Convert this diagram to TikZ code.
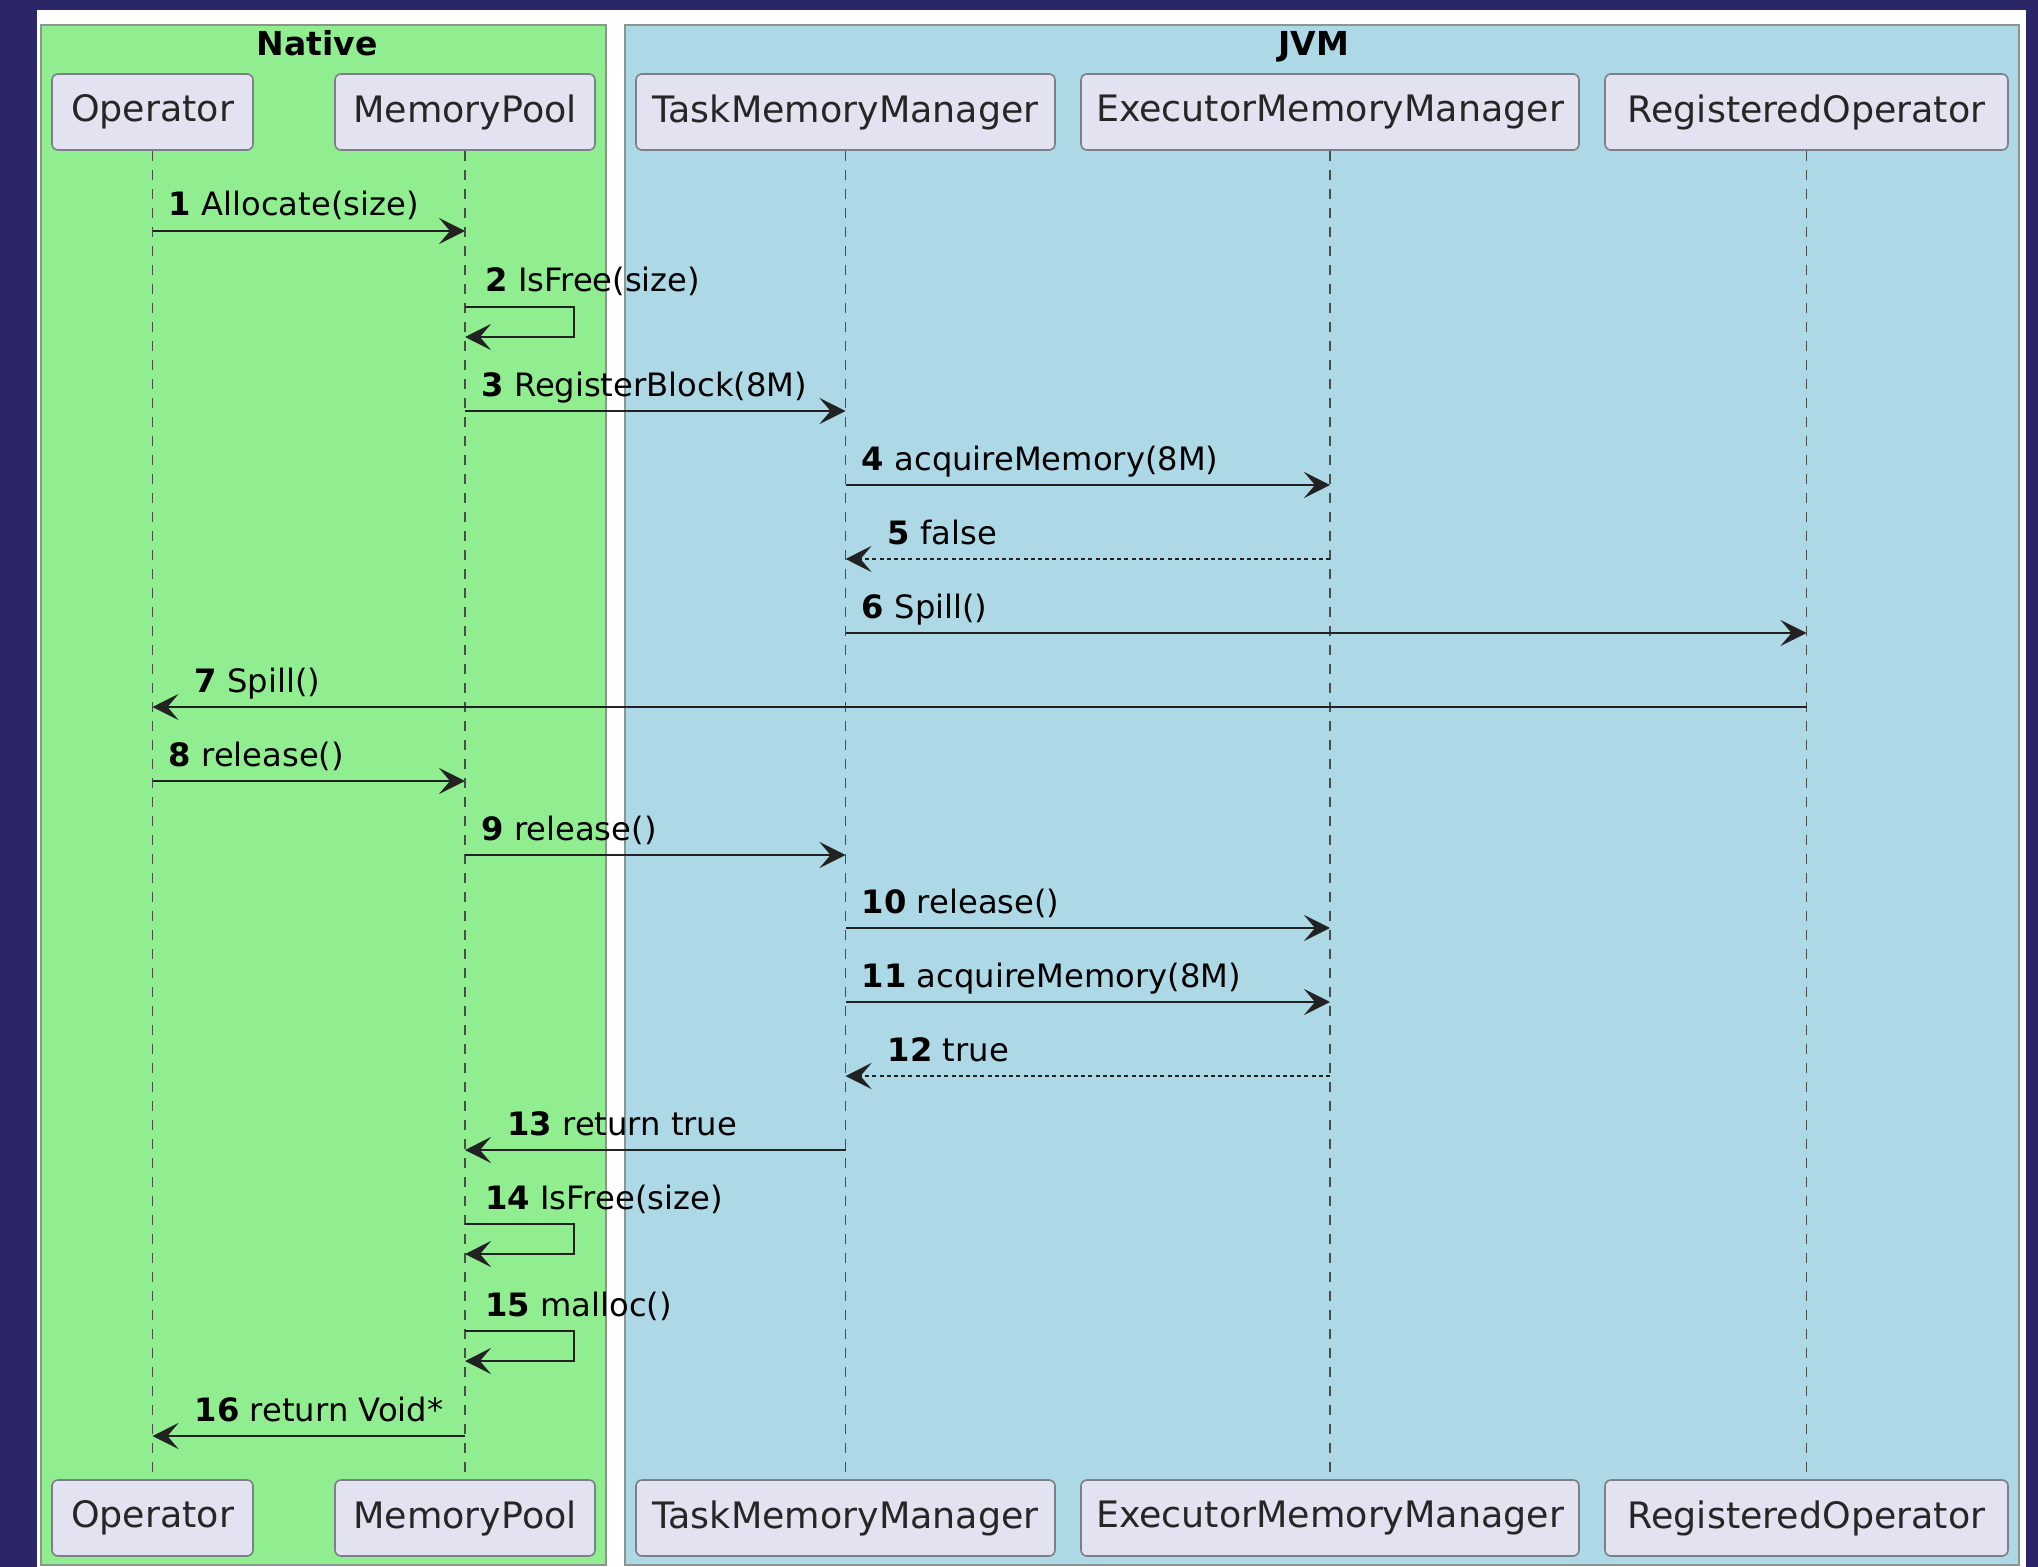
\documentclass[tikz,border=0pt]{standalone}
\usepackage{fontspec}
\setmainfont{DejaVu Sans}
\usetikzlibrary{arrows.meta}
\definecolor{frameblue}{HTML}{2A2668}
\definecolor{natgreen}{HTML}{90EE90}
\definecolor{jvmblue}{HTML}{ADD8E6}
\definecolor{partfill}{HTML}{E2E2F0}
\definecolor{partline}{HTML}{7E7E88}
\definecolor{grpline}{HTML}{8C9690}
\definecolor{inkline}{HTML}{222222}
\begin{document}
\begin{tikzpicture}[x=0.5pt,y=-0.5pt,
  grp/.style={draw=grpline,line width=1pt},
  grptitle/.style={font=\fontsize{16.5}{19}\selectfont\bfseries,inner sep=0pt,anchor=base},
  part/.style={draw=partline,fill=partfill,line width=0.8pt,rounded corners=3pt,
    minimum height=38pt,inner sep=0pt,text=black!85,font=\fontsize{18.2}{21}\selectfont},
  life/.style={draw=black!70,line width=0.7pt,dash pattern=on 5pt off 4.5pt},
  msg/.style={draw=inkline,line width=1.3pt,-{Stealth[length=13pt,width=13pt,inset=5.5pt]}},
  ret/.style={msg,dash pattern=on 2pt off 1.6pt,line width=1pt},
  lbl/.style={font=\fontsize{16.1}{19}\selectfont,inner sep=0pt,anchor=base west},
]
\useasboundingbox (0,0) rectangle (2038,1567);
% page frame
\fill[frameblue] (0,0) rectangle (2038,1567);
\fill[white] (37,10) rectangle (2026,1567);

% groups
\draw[grp,fill=natgreen] (41,25) rectangle (606,1565);
\draw[grp,fill=jvmblue] (625,25) rectangle (2019,1565);
\node[grptitle] (tnative) at (317,56) {Native};
\node[grptitle] (tjvm) at (1314,56) {JVM};

% participants, top
\node[part,minimum width=100.5pt] (tOp)  at (152.5,112) {Operator};
\node[part,minimum width=130pt]   (tMP)  at (465,112)   {MemoryPool};
\node[part,minimum width=209.5pt] (tTMM) at (845.5,112) {TaskMemoryManager};
\node[part,minimum width=249pt]   (tEMM) at (1330,112)  {ExecutorMemoryManager};
\node[part,minimum width=201.5pt] (tRO)  at (1806.5,112){RegisteredOperator};
% participants, bottom
\node[part,minimum width=100.5pt] (bOp)  at (152.5,1518) {Operator};
\node[part,minimum width=130pt]   (bMP)  at (465,1518)   {MemoryPool};
\node[part,minimum width=209.5pt] (bTMM) at (845.5,1518) {TaskMemoryManager};
\node[part,minimum width=249pt]   (bEMM) at (1330,1518)  {ExecutorMemoryManager};
\node[part,minimum width=201.5pt] (bRO)  at (1806.5,1518){RegisteredOperator};

% lifelines
\foreach \p in {Op,MP,TMM,EMM,RO}{
  \draw[life] (t\p.south) -- (b\p.north);
}

% message rows
\coordinate (r1) at (0,231);
\coordinate (r2) at (0,307);   \coordinate (r2b) at (0,337);
\coordinate (r3) at (0,411);
\coordinate (r4) at (0,485);
\coordinate (r5) at (0,559);
\coordinate (r6) at (0,633);
\coordinate (r7) at (0,707);
\coordinate (r8) at (0,781);
\coordinate (r9) at (0,855);
\coordinate (r10) at (0,928);
\coordinate (r11) at (0,1002);
\coordinate (r12) at (0,1076);
\coordinate (r13) at (0,1150);
\coordinate (r14) at (0,1224); \coordinate (r14b) at (0,1254);
\coordinate (r15) at (0,1331); \coordinate (r15b) at (0,1361);
\coordinate (r16) at (0,1436);

% messages
\draw[msg] (tOp |- r1) -- (tMP |- r1);
\node[lbl] (l1) at ([xshift=8pt,yshift=7.5pt]tOp |- r1) {\textbf{1} Allocate(size)};

\draw[msg] (tMP |- r2) -- ++(109,0) |- (tMP |- r2b);
\node[lbl] (l2) at ([xshift=10pt,yshift=7.5pt]tMP |- r2) {\textbf{2} IsFree(size)};

\draw[msg] (tMP |- r3) -- (tTMM |- r3);
\node[lbl] (l3) at ([xshift=8pt,yshift=7.5pt]tMP |- r3) {\textbf{3} RegisterBlock(8M)};

\draw[msg] (tTMM |- r4) -- (tEMM |- r4);
\node[lbl] (l4) at ([xshift=8pt,yshift=7.5pt]tTMM |- r4) {\textbf{4} acquireMemory(8M)};

\draw[ret] (tEMM |- r5) -- (tTMM |- r5);
\node[lbl] (l5) at ([xshift=21pt,yshift=7.5pt]tTMM |- r5) {\textbf{5} false};

\draw[msg] (tTMM |- r6) -- (tRO |- r6);
\node[lbl] (l6) at ([xshift=8pt,yshift=7.5pt]tTMM |- r6) {\textbf{6} Spill()};

\draw[msg] (tRO |- r7) -- (tOp |- r7);
\node[lbl] (l7) at ([xshift=21pt,yshift=7.5pt]tOp |- r7) {\textbf{7} Spill()};

\draw[msg] (tOp |- r8) -- (tMP |- r8);
\node[lbl] (l8) at ([xshift=8pt,yshift=7.5pt]tOp |- r8) {\textbf{8} release()};

\draw[msg] (tMP |- r9) -- (tTMM |- r9);
\node[lbl] (l9) at ([xshift=8pt,yshift=7.5pt]tMP |- r9) {\textbf{9} release()};

\draw[msg] (tTMM |- r10) -- (tEMM |- r10);
\node[lbl] (l10) at ([xshift=8pt,yshift=7.5pt]tTMM |- r10) {\textbf{10} release()};

\draw[msg] (tTMM |- r11) -- (tEMM |- r11);
\node[lbl] (l11) at ([xshift=8pt,yshift=7.5pt]tTMM |- r11) {\textbf{11} acquireMemory(8M)};

\draw[ret] (tEMM |- r12) -- (tTMM |- r12);
\node[lbl] (l12) at ([xshift=21pt,yshift=7.5pt]tTMM |- r12) {\textbf{12} true};

\draw[msg] (tTMM |- r13) -- (tMP |- r13);
\node[lbl] (l13) at ([xshift=21pt,yshift=7.5pt]tMP |- r13) {\textbf{13} return true};

\draw[msg] (tMP |- r14) -- ++(109,0) |- (tMP |- r14b);
\node[lbl] (l14) at ([xshift=10pt,yshift=7.5pt]tMP |- r14) {\textbf{14} IsFree(size)};

\draw[msg] (tMP |- r15) -- ++(109,0) |- (tMP |- r15b);
\node[lbl] (l15) at ([xshift=10pt,yshift=7.5pt]tMP |- r15) {\textbf{15} malloc()};

\draw[msg] (tMP |- r16) -- (tOp |- r16);
\node[lbl] (l16) at ([xshift=21pt,yshift=7.5pt]tOp |- r16) {\textbf{16} return Void*};
\end{tikzpicture}
\end{document}
